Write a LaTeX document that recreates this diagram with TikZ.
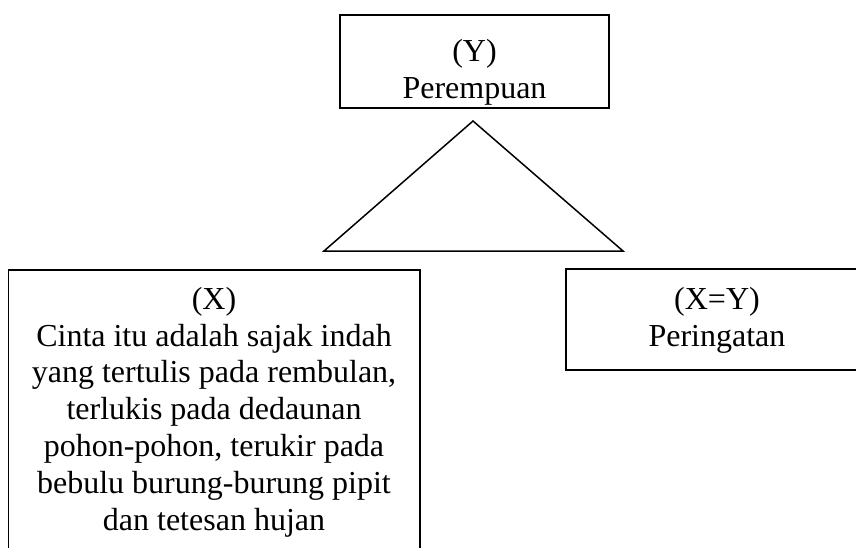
\documentclass[tikz,border=0pt]{standalone}
\usepackage{fontspec}
\setmainfont{Liberation Serif}
\begin{document}
\begin{tikzpicture}[x=1pt,y=-1pt,
  boxline/.style={line width=1.7pt, line join=miter},
  boxtext/.style={font=\fontsize{32}{36.8}\selectfont, align=center,
    inner sep=0pt, anchor=base}]
\useasboundingbox (0,0) rectangle (856,547);
\clip (0,0) rectangle (856,547);

% top box (text anchored on the baseline of its last line)
\node[draw, boxline, minimum width=269pt, minimum height=93pt,
  inner sep=0pt] (ybox) at (474.5,61.5) {};
\node[boxtext] (ytext) at (474.5,98.5) {(Y)\\Perempuan};

% triangle under the top box
\coordinate (apex) at (473,121);
\coordinate (bl) at (324,251);
\coordinate (br) at (623,251);
\draw[line width=1.5pt, line join=miter] (apex) -- (bl) -- (br) -- cycle;

% left box, open at the bottom
\coordinate (xbl) at (8.5,560);
\coordinate (xtl) at (8.5,270);
\coordinate (xtr) at (420,270);
\coordinate (xbr) at (420,560);
\draw[boxline] (xbl) -- (xtl) -- (xtr) -- (xbr);
\node[boxtext] (xtext) at (214,530) {(X)\\Cinta itu adalah sajak indah\\yang tertulis pada rembulan,\\terlukis pada dedaunan\\pohon-pohon, terukir pada\\bebulu burung-burung pipit\\dan tetesan hujan};

% right box, running past the right edge
\coordinate (ztl) at (566,269);
\coordinate (zbr) at (872,370);
\draw[boxline] (ztl) rectangle (zbr);
\node[boxtext] (ztext) at (717,346) {(X=Y)\\Peringatan};
\end{tikzpicture}
\end{document}
